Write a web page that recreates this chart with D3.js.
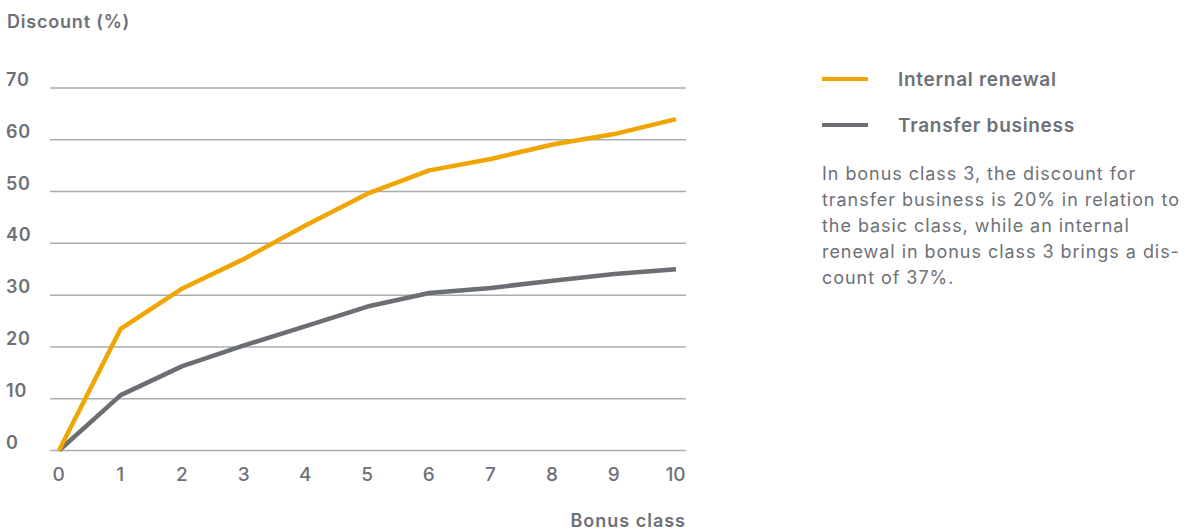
<!DOCTYPE html>
<html>
<head>
<meta charset="utf-8">
<script src="https://cdn.jsdelivr.net/npm/d3@7"></script>
<style>
  body { margin: 0; background: #fff; }
  svg { display: block; font-family: Inter, "Open Sans", sans-serif; }
</style>
</head>
<body>
<svg id="chart"></svg>
<script>
// bonus classes on the x axis
const classes = [0, 1, 2, 3, 4, 5, 6, 7, 8, 9, 10]
// discount in percent
const internalRenewal = [0, 23.5, 31.3, 37, 43.5, 49.6, 54.1, 56.3, 59.1, 61.1, 64]
const transferBusiness = [0, 10.7, 16.3, 20.3, 24, 27.8, 30.4, 31.4, 32.8, 34.1, 35]
const yTicks = [0, 10, 20, 30, 40, 50, 60, 70]

const seriesNames = ['Internal renewal', 'Transfer business']
const seriesColors = ['#f0a500', '#6b6e73']
const note = [
  'In bonus class 3, the discount for',
  'transfer business is 20% in relation to',
  'the basic class, while an internal',
  'renewal in bonus class 3 brings a dis-',
  'count of 37%.'
]

const WIDTH = 1185
const HEIGHT = 530
const TEXT = '#6d7177'
const GRID = '#a9acb0'

const svg = d3.select('#chart')
  .attr('width', WIDTH)
  .attr('height', HEIGHT)

const x = d3.scaleLinear().domain([0, 10]).range([59, 676])
const y = d3.scaleLinear().domain([0, 70]).range([450.5, 88])

// gridlines + y labels
const yAxis = svg.append('g')
yAxis.selectAll('line')
  .data(yTicks)
  .join('line')
  .attr('x1', 50)
  .attr('x2', 686)
  .attr('y1', (d) => y(d))
  .attr('y2', (d) => y(d))
  .attr('stroke', GRID)
  .attr('stroke-width', 1.5)
yAxis.selectAll('text')
  .data(yTicks)
  .join('text')
  .attr('x', 6)
  .attr('y', (d) => y(d) - 2)
  .attr('fill', TEXT)
  .attr('font-size', 18)
  .attr('font-weight', 600)
  .attr('letter-spacing', 0.8)
  .text((d) => d)

svg.append('text')
  .attr('x', 7)
  .attr('y', 28)
  .attr('fill', TEXT)
  .attr('font-size', 18)
  .attr('font-weight', 600)
  .attr('letter-spacing', 0.8)
  .text('Discount (%)')

// x axis labels
const xAxis = d3.axisBottom(x).tickValues(classes).tickSize(0).tickPadding(0)
svg.append('g')
  .attr('transform', 'translate(-1, 467)')
  .call(xAxis)
  .call((g) => {
    g.select('.domain').remove()
    g.selectAll('.tick text')
      .attr('fill', TEXT)
      .attr('font-size', 19)
      .attr('font-weight', 500)
      .attr('font-family', 'Inter, sans-serif')
  })

svg.append('text')
  .attr('x', 686)
  .attr('y', 527)
  .attr('text-anchor', 'end')
  .attr('fill', TEXT)
  .attr('font-size', 18)
  .attr('font-weight', 600)
  .attr('letter-spacing', 1)
  .text('Bonus class')

// lines, transfer business drawn first so the orange sits on top
const line = d3.line()
  .x((d, i) => x(classes[i]))
  .y((d) => y(d))

svg.selectAll('.series')
  .data([transferBusiness, internalRenewal])
  .join('path')
  .attr('class', 'series')
  .attr('d', line)
  .attr('fill', 'none')
  .attr('stroke', (d, i) => seriesColors[1 - i])
  .attr('stroke-width', 4.5)
  .attr('stroke-linejoin', 'round')

// legend
const legend = svg.append('g')
  .selectAll('g')
  .data(seriesNames)
  .join('g')
  .attr('transform', (d, i) => `translate(822, ${79 + i * 46})`)
legend.append('line')
  .attr('x1', 0)
  .attr('x2', 46)
  .attr('stroke', (d, i) => seriesColors[i])
  .attr('stroke-width', 4)
legend.append('text')
  .attr('x', 76)
  .attr('y', 7)
  .attr('fill', TEXT)
  .attr('font-size', 19)
  .attr('font-weight', 600)
  .attr('letter-spacing', 0.7)
  .text((d) => d)

svg.append('g')
  .selectAll('text')
  .data(note)
  .join('text')
  .attr('x', 822)
  .attr('y', (d, i) => 180 + i * 26)
  .attr('fill', TEXT)
  .attr('font-size', 18)
  .attr('font-weight', 400)
  .attr('letter-spacing', 0.95)
  .text((d) => d)
</script>
</body>
</html>
